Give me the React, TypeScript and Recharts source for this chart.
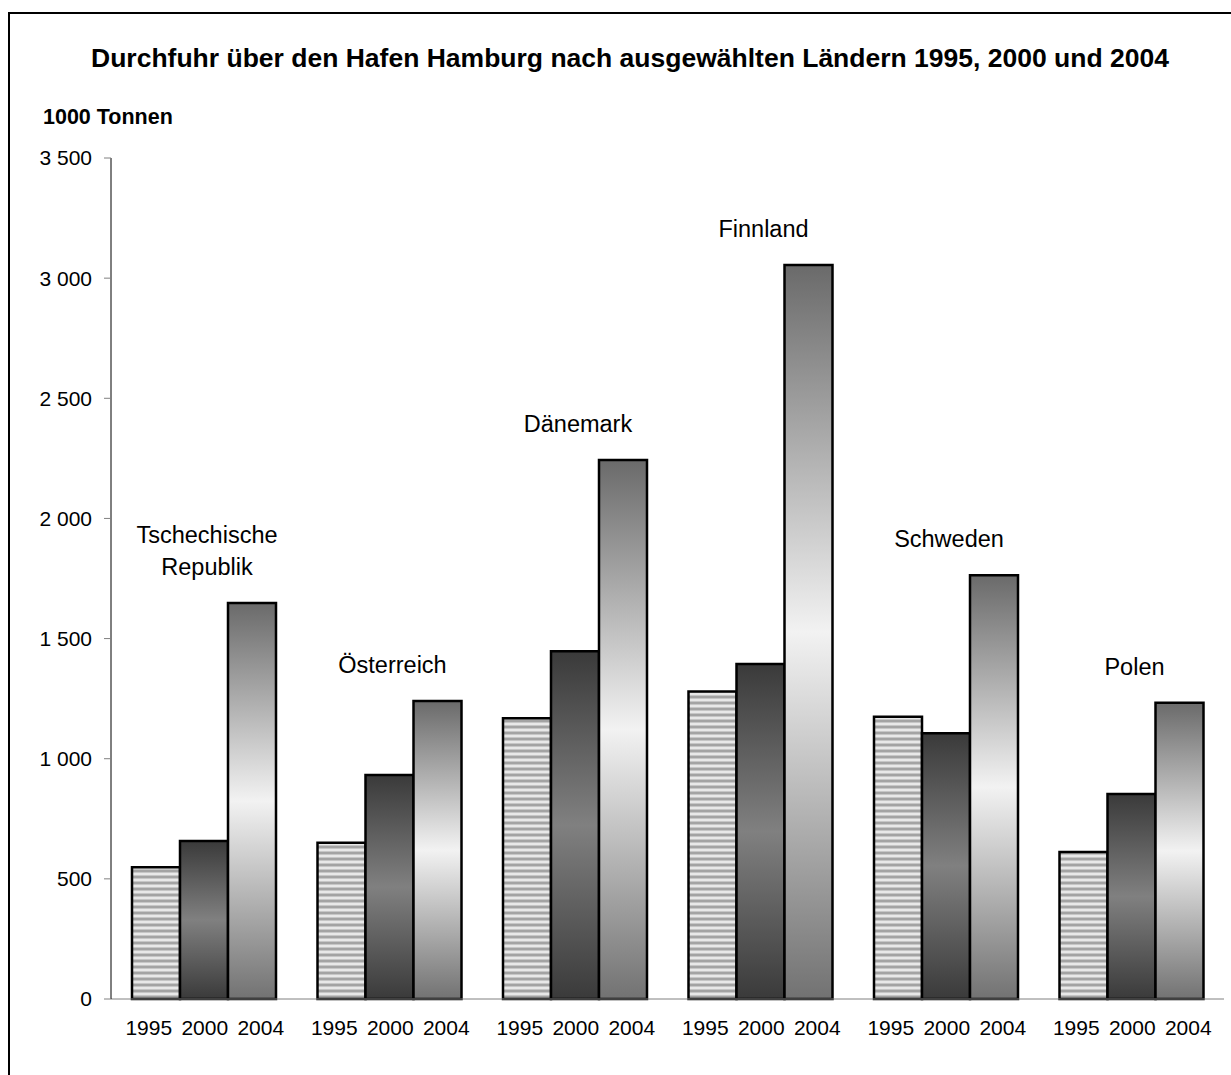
import React from 'react';
import { BarChart, Bar, XAxis, YAxis, LabelList } from 'recharts';

const countries = ['Tschechische Republik', 'Österreich', 'Dänemark', 'Finnland', 'Schweden', 'Polen'];
const years = ['1995', '2000', '2004'];
const values1995 = [548, 650, 1168, 1280, 1175, 612];
const values2000 = [658, 932, 1447, 1394, 1106, 853];
const values2004 = [1648, 1240, 2243, 3055, 1764, 1233];
const yTicks = [0, 500, 1000, 1500, 2000, 2500, 3000, 3500];

const title = 'Durchfuhr über den Hafen Hamburg nach ausgewählten Ländern 1995, 2000 und 2004';
const unitLabel = '1000 Tonnen';

const FONT = '"Liberation Sans", Arial, sans-serif';
const BAR = 48;
const YEAR_STEP = 56;

const data = countries.map((name, i) => ({
  name,
  y1995: values1995[i],
  y2000: values2000[i],
  y2004: values2004[i],
}));

const fmt = (v: number) => String(v).replace(/\B(?=(\d{3})+(?!\d))/g, ' ');

function YearTick(props: any) {
  const { x, y } = props;
  return (
    <g>
      {years.map((yr, i) => (
        <text key={yr} x={x + 1 + (i - 1) * YEAR_STEP} y={y + 36} textAnchor="middle" fontSize={21} fontFamily={FONT} fill="#000">
          {yr}
        </text>
      ))}
    </g>
  );
}

function CountryLabel(props: any) {
  const { x, y, width, value } = props;
  const cx = x + width / 2 - BAR + 3;
  const lines = String(value).split(' ');
  const base = y - 36;
  return (
    <text x={cx} textAnchor="middle" fontSize={23.5} fontFamily={FONT} fill="#000" dominantBaseline="central">
      {lines.map((l, i) => (
        <tspan key={i} x={cx} y={base - (lines.length - 1 - i) * 32}>
          {l}
        </tspan>
      ))}
    </text>
  );
}

export default function App() {
  return (
    <div style={{ position: 'fixed', left: 0, top: 0, width: 1231, height: 1075, background: '#fff', overflow: 'hidden' }}>
      <svg width={1231} height={1075} style={{ position: 'absolute', left: 0, top: 0 }}>
        <line x1={9} y1={12} x2={9} y2={1075} stroke="#000" strokeWidth={2} />
        <line x1={8} y1={13} x2={1231} y2={13} stroke="#000" strokeWidth={2} />
        <text x={630} y={67} textAnchor="middle" fontSize={26.5} fontWeight="bold" fontFamily={FONT}>
          {title}
        </text>
        <text x={43} y={124} fontSize={21.5} fontWeight="bold" fontFamily={FONT}>
          {unitLabel}
        </text>
      </svg>
      <div style={{ position: 'absolute', left: 0, top: 0 }}>
        <BarChart
          width={1231}
          height={1075}
          data={data}
          margin={{ top: 158, right: 7, left: 0, bottom: 0 }}
          barGap={0}
          barSize={BAR}
        >
          <defs>
            <pattern id="stripes" width={6} height={6} patternUnits="userSpaceOnUse">
              <rect x={0} y={0} width={6} height={2} fill="#a3a3a3" />
              <rect x={0} y={2} width={6} height={1} fill="#c6c6c6" />
              <rect x={0} y={3} width={6} height={2} fill="#e8e8e8" />
              <rect x={0} y={5} width={6} height={1} fill="#c6c6c6" />
            </pattern>
            <linearGradient id="g2000" x1="0" y1="0" x2="0" y2="1">
              <stop offset="0%" stopColor="#3a3a3a" />
              <stop offset="50%" stopColor="#808080" />
              <stop offset="100%" stopColor="#3a3a3a" />
            </linearGradient>
            <linearGradient id="g2004" x1="0" y1="0" x2="0" y2="1">
              <stop offset="0%" stopColor="#6a6a6a" />
              <stop offset="50%" stopColor="#f2f2f2" />
              <stop offset="100%" stopColor="#727272" />
            </linearGradient>
          </defs>
          <XAxis
            dataKey="name"
            height={76}
            tickLine={false}
            tickSize={0}
            tickMargin={0}
            axisLine={{ stroke: '#808080', strokeWidth: 1 }}
            tick={<YearTick />}
            interval={0}
          />
          <YAxis
            width={111}
            domain={[0, 3500]}
            ticks={yTicks}
            tickFormatter={fmt}
            axisLine={{ stroke: '#000', strokeWidth: 1 }}
            tickLine={{ stroke: '#808080' }}
            tickSize={7}
            tickMargin={12}
            tick={{ fill: '#000', fontSize: 21, fontFamily: FONT }}
          />
          <Bar dataKey="y1995" fill="url(#stripes)" stroke="#000" strokeWidth={2.5} isAnimationActive={false} />
          <Bar dataKey="y2000" fill="url(#g2000)" stroke="#000" strokeWidth={2.5} isAnimationActive={false} />
          <Bar dataKey="y2004" fill="url(#g2004)" stroke="#000" strokeWidth={2.5} isAnimationActive={false}>
            <LabelList dataKey="name" content={<CountryLabel />} />
          </Bar>
        </BarChart>
      </div>
    </div>
  );
}
